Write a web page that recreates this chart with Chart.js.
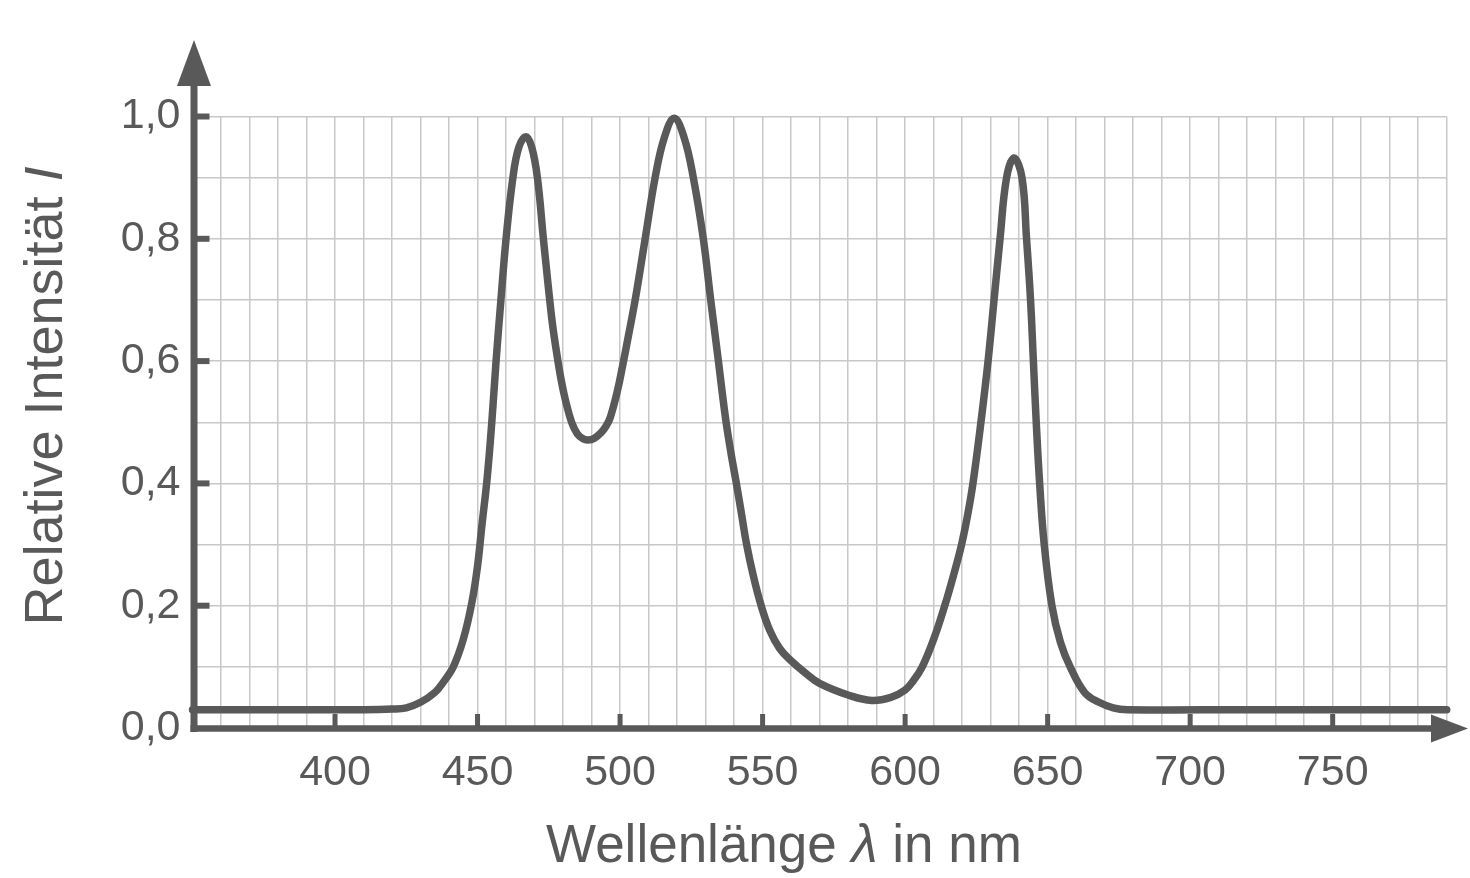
<!DOCTYPE html>
<html lang="de">
<head>
<meta charset="utf-8">
<title>Spektrum</title>
<script src="https://cdn.jsdelivr.net/npm/chart.js@4.4.1/dist/chart.umd.min.js"></script>
<style>
  html, body { margin: 0; padding: 0; background: #fff; }
  #wrap { width: 1470px; height: 878px; position: relative; }
</style>
</head>
<body>
<div id="wrap"><canvas id="spektrum"></canvas></div>
<script>
// Werte: Wellenlänge in nm und relative Intensität
const wavelengths = [
    350, 380, 410, 420, 425, 430, 435, 438, 441.5, 445, 448, 450, 451.5, 453.4, 455,
    456.5, 458.2, 460, 462.4, 464.5, 467, 469, 471, 473.1, 474.2, 475.2, 476.3, 477.7,
    479.3, 481, 483, 485, 487, 488.7, 491, 493.5, 495, 496.5, 499, 501, 503, 505.3,
    508.8, 512.3, 515.5, 519, 522.5, 525.7, 529.2, 531.8, 534.5, 535.8, 537.2, 538.9,
    540.8, 542.6, 544.4, 546.7, 549.5, 552.5, 556, 560, 565, 570, 580, 588.3, 595,
    600, 603, 606, 610, 613.9, 617, 619.8, 622, 623.8, 626.6, 629.1, 631.2, 633.3,
    635.6, 638.2, 641, 642.6, 644, 645, 646, 647.2, 648.8, 651.5, 654.5, 657.9, 663,
    668, 673, 678, 720, 790
];
const intensities = [
    0.03, 0.03, 0.03, 0.031, 0.033, 0.042, 0.058, 0.075, 0.1, 0.145, 0.205, 0.265, 0.33, 0.41, 0.5,
    0.6, 0.7, 0.8, 0.9, 0.95, 0.967, 0.95, 0.9, 0.8, 0.75, 0.705, 0.66, 0.615,
    0.57, 0.533, 0.5, 0.481, 0.473, 0.471, 0.474, 0.484, 0.493, 0.507, 0.55, 0.595, 0.643, 0.7,
    0.8, 0.9, 0.965, 0.997, 0.965, 0.9, 0.8, 0.7, 0.6, 0.55, 0.5, 0.45,
    0.4, 0.35, 0.3, 0.25, 0.2, 0.16, 0.13, 0.11, 0.09, 0.073, 0.054, 0.045, 0.05,
    0.062, 0.078, 0.1, 0.145, 0.2, 0.25, 0.3, 0.35, 0.4, 0.5, 0.6, 0.7, 0.8,
    0.9, 0.932, 0.9, 0.8, 0.7, 0.6, 0.5, 0.4, 0.3, 0.2, 0.14, 0.1, 0.058,
    0.042, 0.033, 0.03, 0.03, 0.03
];
const xLabelTicks = [400, 450, 500, 550, 600, 650, 700, 750];
const yLabelTicks = [0.2, 0.4, 0.6, 0.8, 1.0];
const xTitle = [{ text: 'Wellenlänge ' }, { text: 'λ', italic: true }, { text: ' in nm' }];
const yTitle = [{ text: 'Relative Intensität ' }, { text: 'I', italic: true }];

const INK = '#595959';
const GRID = '#c8c8c8';
const FONT = '"Liberation Sans", Arial, sans-serif';

function fontFor(part, size) {
    return (part.italic ? 'italic ' : '') + size + 'px ' + FONT;
}

// Draws a title made of plain and italic pieces, centred on x.
function drawRichText(ctx, parts, x, y, size) {
    let total = 0;
    parts.forEach(p => {
        ctx.font = fontFor(p, size);
        p.w = ctx.measureText(p.text).width;
        total += p.w;
    });
    let cx = x - total / 2;
    parts.forEach(p => {
        ctx.font = fontFor(p, size);
        ctx.fillText(p.text, cx, y);
        cx += p.w;
    });
}

const axesPlugin = {
    id: 'axesPlugin',
    afterDatasetsDraw(chart) {
        const ctx = chart.ctx;
        const xs = chart.scales.x;
        const ys = chart.scales.y;
        const x0 = xs.getPixelForValue(350);
        const y0 = ys.getPixelForValue(0);
        ctx.save();
        ctx.strokeStyle = INK;
        ctx.fillStyle = INK;

        // inner tick marks
        ctx.lineWidth = 5;
        xLabelTicks.forEach(v => {
            const px = xs.getPixelForValue(v);
            ctx.beginPath();
            ctx.moveTo(px, y0);
            ctx.lineTo(px, y0 - 14);
            ctx.stroke();
        });
        ctx.lineWidth = 6;
        yLabelTicks.forEach(v => {
            const py = ys.getPixelForValue(v);
            ctx.beginPath();
            ctx.moveTo(x0, py);
            ctx.lineTo(x0 + 17, py);
            ctx.stroke();
        });

        // axis lines
        ctx.lineWidth = 7;
        ctx.beginPath();
        ctx.moveTo(x0 + 1.5, y0 + 4);
        ctx.lineTo(x0 + 1.5, 84);
        ctx.stroke();
        ctx.lineWidth = 6.5;
        ctx.beginPath();
        ctx.moveTo(x0 - 2, y0 + 0.5);
        ctx.lineTo(1434, y0 + 0.5);
        ctx.stroke();

        // arrow heads
        ctx.beginPath();
        ctx.moveTo(x0 + 1.5, 40);
        ctx.lineTo(x0 - 15.5, 86);
        ctx.lineTo(x0 + 18.5, 86);
        ctx.closePath();
        ctx.fill();
        ctx.beginPath();
        ctx.moveTo(1468, y0 + 0.5);
        ctx.lineTo(1431, y0 - 13.5);
        ctx.lineTo(1431, y0 + 14.5);
        ctx.closePath();
        ctx.fill();

        // axis titles
        ctx.textBaseline = 'alphabetic';
        ctx.textAlign = 'left';
        drawRichText(ctx, xTitle, 784, 862, 53);
        ctx.translate(62, 396);
        ctx.rotate(-Math.PI / 2);
        drawRichText(ctx, yTitle, 0, 0, 54);
        ctx.restore();
    }
};

const points = wavelengths.map((w, i) => ({ x: w, y: intensities[i] }));

new Chart(document.getElementById('spektrum'), {
    type: 'line',
    data: {
        datasets: [{
            data: points,
            borderColor: INK,
            borderWidth: 7.5,
            borderCapStyle: 'round',
            borderJoinStyle: 'round',
            tension: 0.4,
            pointRadius: 0,
            fill: false,
            clip: 10
        }]
    },
    options: {
        responsive: true,
        maintainAspectRatio: false,
        animation: false,
        devicePixelRatio: 1,
        layout: { padding: { left: 0, right: 23.3, top: 116.5, bottom: 0 } },
        plugins: {
            legend: { display: false },
            tooltip: { enabled: false }
        },
        scales: {
            x: {
                type: 'linear',
                min: 350,
                max: 790,
                border: { display: false },
                grid: { color: GRID, lineWidth: 1.5, drawTicks: false },
                afterFit: (scale) => { scale.height = 150; },
                ticks: {
                    stepSize: 10,
                    autoSkip: false,
                    minRotation: 0,
                    maxRotation: 0,
                    padding: 19,
                    color: INK,
                    font: { family: FONT, size: 43 },
                    callback: (v) => xLabelTicks.includes(v) ? String(v) : ''
                }
            },
            y: {
                min: 0,
                max: 1,
                border: { display: false },
                grid: { color: GRID, lineWidth: 1.5, drawTicks: false },
                afterFit: (scale) => { scale.width = 192.5; },
                ticks: {
                    stepSize: 0.1,
                    autoSkip: false,
                    padding: 12,
                    color: INK,
                    font: { family: FONT, size: 43 },
                    callback: (v) => {
                        const t = Math.round(v * 10);
                        return t % 2 === 0 ? (t / 10).toFixed(1).replace('.', ',') : '';
                    }
                }
            }
        }
    },
    plugins: [axesPlugin]
});
</script>
</body>
</html>
